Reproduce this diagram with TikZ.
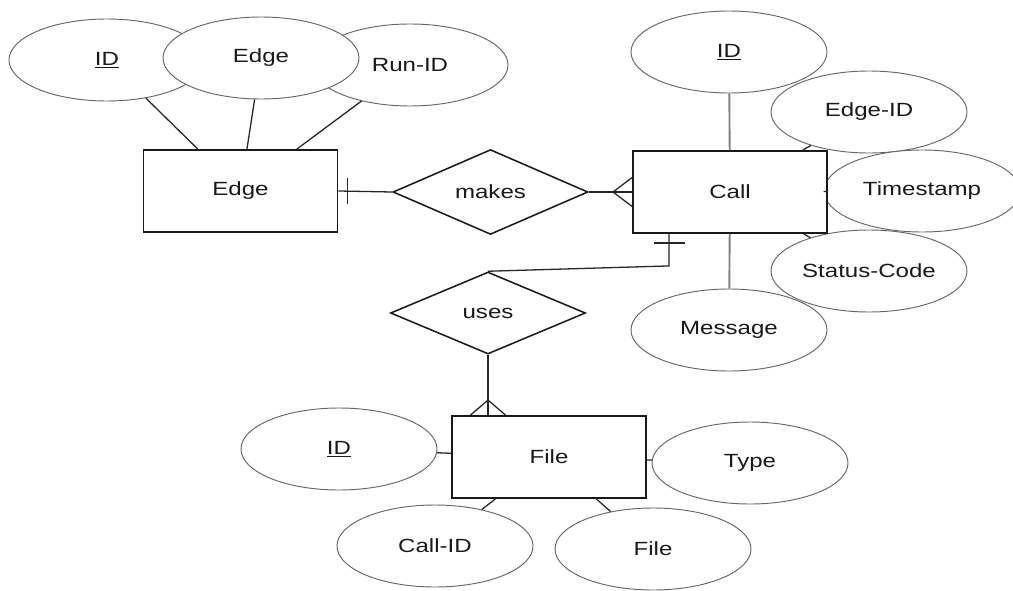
\documentclass[tikz,border=0pt]{standalone}
\usepackage{fontspec}
\setmainfont[FakeStretch=1.26]{Liberation Sans}
\usetikzlibrary{shapes.geometric,calc}
\begin{document}
\begin{tikzpicture}[x=0.03cm,y=-0.03cm,
  font=\fontsize{16.3}{19}\selectfont, text=black!90,
  entity/.style={draw=black!90, line width=1.3pt, fill=white, minimum width=5.83cm, minimum height=2.47cm, inner sep=0pt},
  attr/.style={ellipse, draw=black!60, line width=0.8pt, fill=white, minimum width=5.88cm, minimum height=2.46cm, inner sep=0pt},
  rel/.style={diamond, draw=black!90, line width=1.3pt, fill=white, minimum width=5.85cm, minimum height=2.46cm, inner sep=0pt},
  conn/.style={draw=black!85, line width=1.1pt},
  gconn/.style={draw=black!50, line width=1.6pt}]
\useasboundingbox (0,0) rectangle (1013,590);

% Edge entity and its attributes
\node[attr] (eid) at (107,60) {\underline{ID}};
\node[attr] (erun) at (410,65) {Run-ID};
\node[attr] (eedge) at (261,58) {Edge};
\node[entity] (edgeE) at (240.5,191) {Edge};

% relationship makes
\node[rel] (makes) at (490.5,192) {makes};

% Call entity and attributes
\node[attr] (cid) at (729,52) {\underline{ID}};
\node[attr] (cedge) at (869,112) {Edge-ID};
\node[attr] (cstat) at (869,271) {Status-Code};
\node[attr] (cmsg) at (729,330) {Message};
\node[attr] (cts) at (922,191) {Timestamp};
\node[entity] (call) at (730,192) {Call};

% relationship uses
\node[rel] (uses) at (488,313) {uses};

% File entity and attributes
\node[attr] (fid) at (339,449) {\underline{ID}};
\node[attr] (ftype) at (750,463) {Type};
\node[attr] (fcall) at (435,546) {Call-ID};
\node[attr] (ffile) at (653,549) {File};
\node[entity] (file) at (549,457) {File};

% attribute connectors
\draw[conn] (eid) -- (edgeE);
\draw[conn] (eedge) -- (edgeE);
\draw[conn] (erun) -- (edgeE);
\draw[gconn] (cid) -- (call);
\draw[gconn] (cmsg) -- (call);
\draw[conn] (cedge) -- (call);
\draw[conn] (cts) -- (call);
\draw[conn] (cstat) -- (call);
\draw[conn] (fid) -- (file);
\draw[conn] (ftype) -- (file);
\draw[conn] (fcall) -- (file);
\draw[conn] (ffile) -- (file);

% Edge -|- makes >- Call
\draw[conn] (edgeE.east) -- (makes.west);
\draw[conn] ($(edgeE.east)+(9,-13)$) -- ($(edgeE.east)+(9,13)$);
\draw[conn] (makes.east) -- (call.west);
\draw[conn] ($(call.west)+(0,-14.5)$) -- ($(call.west)+(-19,0)$) -- ($(call.west)+(0,14.5)$);

% Call -|- uses
\coordinate (cbot) at ($(call.south)+(-61,0)$);
\coordinate (cbend) at ($(cbot)+(0,32)$);
\draw[conn] (cbot) -- (cbend) -- (uses.north);
\draw[conn] ($(cbot)+(-15.5,9)$) -- ($(cbot)+(15.5,9)$);

% uses >- File
\coordinate (ftop) at (uses.south |- file.north);
\draw[conn] (uses.south) -- (ftop);
\draw[conn] ($(ftop)+(-17.5,0)$) -- ($(ftop)+(0,-15)$) -- ($(ftop)+(17.5,0)$);
\end{tikzpicture}
\end{document}
